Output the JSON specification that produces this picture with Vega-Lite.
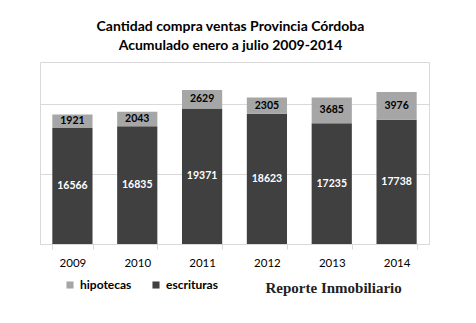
{
  "$schema": "https://vega.github.io/schema/vega-lite/v6.json",
  "width": 389,
  "height": 182,
  "padding": {"left": 40, "top": 20, "right": 47, "bottom": 5},
  "background": "white",
  "title": {
    "text": ["Cantidad compra ventas Provincia Córdoba", "Acumulado enero a julio 2009-2014"],
    "font": "Lato",
    "fontSize": 14,
    "fontWeight": "bold",
    "lineHeight": 19,
    "color": "#000000",
    "anchor": "middle",
    "dx": -4,
    "offset": 9
  },
  "config": {
    "view": {"stroke": "#D9D9D9", "strokeWidth": 1},
    "font": "Lato"
  },
  "data": {
    "values": [
      {"year": "2009", "tipo": "escrituras", "value": 16566},
      {"year": "2009", "tipo": "hipotecas", "value": 1921},
      {"year": "2010", "tipo": "escrituras", "value": 16835},
      {"year": "2010", "tipo": "hipotecas", "value": 2043},
      {"year": "2011", "tipo": "escrituras", "value": 19371},
      {"year": "2011", "tipo": "hipotecas", "value": 2629},
      {"year": "2012", "tipo": "escrituras", "value": 18623},
      {"year": "2012", "tipo": "hipotecas", "value": 2305},
      {"year": "2013", "tipo": "escrituras", "value": 17235},
      {"year": "2013", "tipo": "hipotecas", "value": 3685},
      {"year": "2014", "tipo": "escrituras", "value": 17738},
      {"year": "2014", "tipo": "hipotecas", "value": 3976}
    ]
  },
  "transform": [
    {"stack": "value", "groupby": ["year"], "sort": [{"field": "tipo", "order": "ascending"}], "as": ["v0", "v1"]},
    {"calculate": "(datum.v0 + datum.v1) / 2", "as": "mid"}
  ],
  "encoding": {
    "x": {
      "field": "year",
      "type": "ordinal",
      "scale": {"paddingInner": 0.38, "paddingOuter": 0.19},
      "axis": {
        "title": "Reporte Inmobiliario",
        "titleFont": "Liberation Serif",
        "titleFontSize": 15,
        "titleFontWeight": "bold",
        "titleColor": "#222222",
        "titleAnchor": "start",
        "titleX": 225,
        "titleY": 36,
        "labelAngle": 0,
        "labelFont": "Lato",
        "labelFontSize": 11.5,
        "labelColor": "#000000",
        "labelPadding": 8,
        "tickBand": "extent",
        "tickColor": "#D9D9D9",
        "tickSize": 5,
        "domainColor": "#D9D9D9"
      }
    }
  },
  "layer": [
    {
      "mark": {"type": "bar"},
      "encoding": {
        "y": {
          "field": "v1",
          "type": "quantitative",
          "scale": {"domain": [0, 25000]},
          "axis": {
            "title": null,
            "labels": false,
            "ticks": false,
            "domain": false,
            "grid": true,
            "gridColor": "#D9D9D9",
            "values": [0, 5000, 10000, 15000, 20000, 25000]
          }
        },
        "y2": {"field": "v0"},
        "color": {
          "field": "tipo",
          "type": "nominal",
          "scale": {"domain": ["hipotecas", "escrituras"], "range": ["#A6A6A6", "#404040"]},
          "legend": {
            "title": null,
            "orient": "none",
            "direction": "horizontal",
            "legendX": 24,
            "legendY": 217,
            "symbolType": "square",
            "symbolSize": 50,
            "symbolStrokeWidth": 0,
            "labelFont": "Lato",
            "labelFontSize": 12,
            "labelFontWeight": "bold",
            "labelColor": "#000000",
            "labelOffset": 4,
            "columnPadding": 18
          }
        }
      }
    },
    {
      "mark": {"type": "text", "font": "Lato", "fontSize": 10.5, "fontWeight": "bold", "baseline": "middle"},
      "encoding": {
        "y": {"field": "mid", "type": "quantitative"},
        "text": {"field": "value", "type": "quantitative", "format": "d"},
        "color": {
          "condition": {"test": "datum.tipo === 'escrituras'", "value": "#FFFFFF"},
          "value": "#000000"
        }
      }
    }
  ]
}
